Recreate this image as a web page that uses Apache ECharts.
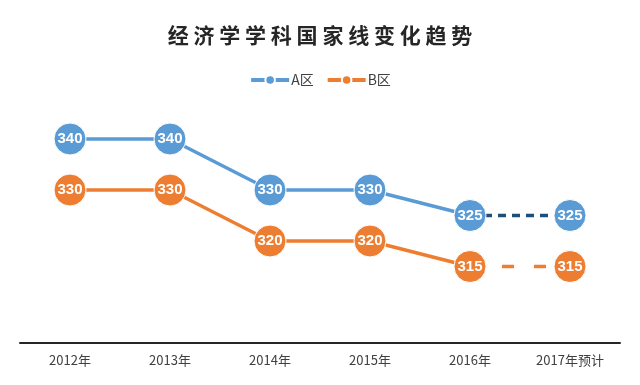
<!DOCTYPE html>
<html><head><meta charset="utf-8">
<script src="https://cdn.jsdelivr.net/npm/echarts@6/dist/echarts.min.js"></script>
<style>html,body{margin:0;padding:0;background:#fff}#c{width:640px;height:385px}</style>
</head><body><div id="c"></div>
<script>
const categories = ['2012年','2013年','2014年','2015年','2016年','2017年预计'];
const seriesA = [340, 340, 330, 330, 325];
const seriesB = [330, 330, 320, 320, 315];
const forecastA = [null, null, null, null, 325, 325];
const forecastB = [null, null, null, null, 315, 315];
const titleText = '经 济 学 学 科 国 家 线 变 化 趋 势';

const blue = '#5B9BD5', orange = '#ED7D31', navy = '#1F4E79';
const chart = echarts.init(document.getElementById('c'));
function labelCfg(){return {show:true,position:'inside',color:'#fff',fontSize:15,fontWeight:'bold',fontFamily:'Liberation Sans, Arial'};}
function fc(arr){return arr.map((v,i)=> v==null?null:(i===4?{value:v,symbol:'none',label:{show:false}}:v));}
chart.setOption({
  animation:false,
  title:{text:titleText,left:'center',top:20,textStyle:{fontFamily:'Noto Sans CJK SC',fontWeight:'bold',fontSize:21,color:'#262626',textShadowColor:'rgba(200,150,80,0.5)',textShadowOffsetX:1,textShadowBlur:0}},
  legend:{top:68,left:'center',itemWidth:38,itemHeight:12,itemGap:12,data:['A区','B区'],
    lineStyle:{width:4},
    textStyle:{fontSize:14,color:'#404040',fontFamily:'Noto Sans CJK SC',padding:[0,0,0,-3]}},
  grid:{left:20,right:20,top:88,bottom:42},
  xAxis:{type:'category',data:categories,boundaryGap:true,
    axisLine:{show:true,lineStyle:{color:'#262626',width:2}},axisTick:{show:false},
    axisLabel:{color:'#404040',fontSize:13,margin:11,fontFamily:'Noto Sans CJK SC'}},
  yAxis:{type:'value',min:300,max:350,show:false,splitLine:{show:false}},
  series:[
    {name:'A预计',type:'line',data:fc(forecastA),z:1,symbol:'circle',symbolSize:32,
     itemStyle:{color:blue,borderColor:'#fff',borderWidth:1},lineStyle:{color:navy,width:3.5,type:[8,6]},label:labelCfg()},
    {name:'B预计',type:'line',data:fc(forecastB),z:1,symbol:'circle',symbolSize:32,
     itemStyle:{color:orange,borderColor:'#fff',borderWidth:1},lineStyle:{color:orange,width:3.5,type:[12,20]},label:labelCfg()},
    {name:'A区',type:'line',data:seriesA,z:3,symbol:'circle',symbolSize:32,
     itemStyle:{color:blue,borderColor:'#fff',borderWidth:1},lineStyle:{color:blue,width:3.5},label:labelCfg()},
    {name:'B区',type:'line',data:seriesB,z:3,symbol:'circle',symbolSize:32,
     itemStyle:{color:orange,borderColor:'#fff',borderWidth:1},lineStyle:{color:orange,width:3.5},label:labelCfg()}
  ]
});
</script></body></html>
